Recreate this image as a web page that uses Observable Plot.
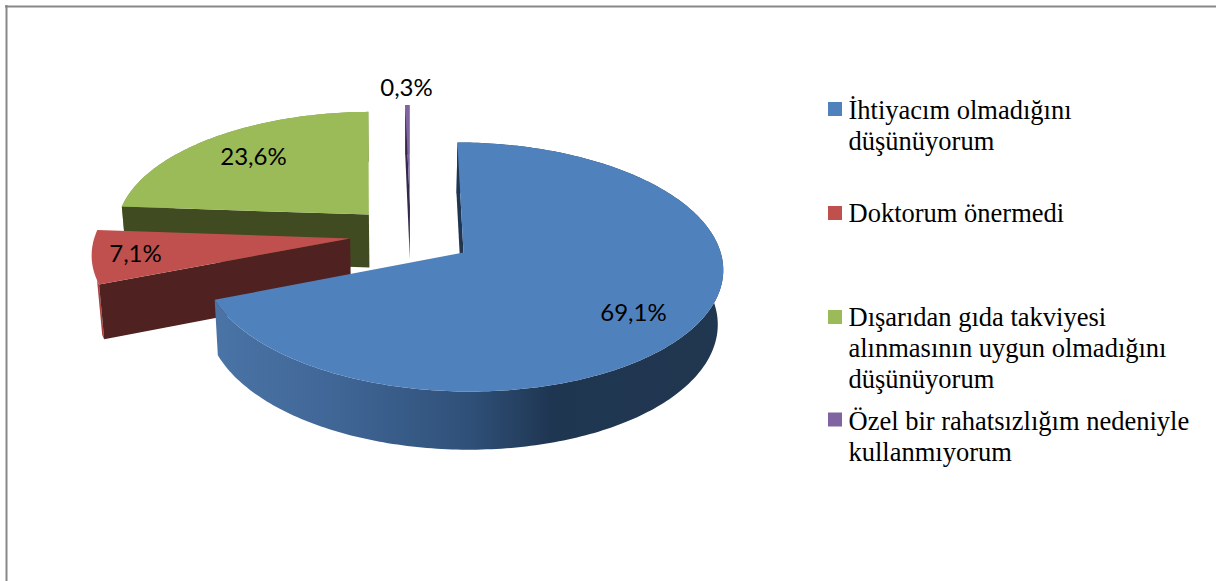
<!DOCTYPE html>
<html><head><meta charset="utf-8">
<script src="https://cdn.jsdelivr.net/npm/d3@7"></script>
<script src="https://cdn.jsdelivr.net/npm/@observablehq/plot@0.6"></script>
<style>html,body{margin:0;padding:0;background:#fff;overflow:hidden}</style>
</head><body><div id="chart"></div>
<script>
const categories = [
  "İhtiyacım olmadığını\ndüşünüyorum",
  "Doktorum önermedi",
  "Dışarıdan gıda takviyesi\nalınmasının uygun olmadığını\ndüşünüyorum",
  "Özel bir rahatsızlığım nedeniyle\nkullanmıyorum"
];
const percents = [69.1, 7.1, 23.6, 0.3];
const valueLabels = ["69,1%", "7,1%", "23,6%", "0,3%"];
const colors = ["#4f81bd", "#c0504d", "#9bbb59", "#8064a2"];
const cutColors = ["#1f3550", "#4f2120", "#404b22", "#33284a"];
const rimColors = ["url(#blueRim)", "#a8413f", "#7f9a48", "#5f4a7c"];

// layout of the tilted pie
const W = 1216, H = 581;
const cx = 463, cy = 252, R = 258, kR = 122.8, p = 0.1164, startDeg = -1.5, shear = 0.012;
const explode = [[0, 0], [-0.445, -0.105], [-0.38, -0.31], [-0.217, -0.39]];
const rimPoints = [Infinity, 3, Infinity, Infinity];
const project = (u, v) => {
  const s = 1 / (1 - p * v);
  const x = cx + R * u * s;
  return [x, cy + kR * v * s + (x - cx) * shear];
};
const extrude = ([x, y]) => [400 + (x - 400) * 0.983, y + 54 + (y - 252) * 0.03];

const total = d3.sum(percents);
let acc = startDeg;
const slices = percents.map((v, i) => {
  const a0 = acc, a1 = acc + v / total * 360; acc = a1;
  const [du, dv] = explode[i];
  const arc = [];
  const n = Math.max(2, Math.ceil(a1 - a0));
  for (let k = 0; k <= n; k++) {
    const a = (a0 + (a1 - a0) * k / n) * Math.PI / 180;
    arc.push(project(Math.sin(a) + du, -Math.cos(a) + dv));
  }
  const tip = project(du, dv);
  return {i, tip, arc};
});

const polygon = (pts, fill) => Plot.line(pts, {x: d => d[0], y: d => d[1], fill, stroke: "none", curve: "linear"});
const sliceMarks = s => {
  const rim = s.arc.slice(0, rimPoints[s.i]);
  return [
    polygon([...rim, ...rim.map(extrude).reverse()], rimColors[s.i]),
    polygon([s.tip, s.arc[0], extrude(s.arc[0]), extrude(s.tip)], cutColors[s.i]),
    polygon([s.tip, ...s.arc], colors[s.i])
  ];
};

const defs = () => {
  const d = d3.create("svg:defs");
  const g = d.append("linearGradient").attr("id", "blueRim").attr("gradientUnits", "userSpaceOnUse")
    .attr("x1", 216).attr("x2", 723).attr("y1", 0).attr("y2", 0);
  [[0, "#4a74a6"], [0.25, "#3f6595"], [0.5, "#2f5078"], [0.66, "#1f3652"], [1, "#21374f"]]
    .forEach(([o, c]) => g.append("stop").attr("offset", o).attr("stop-color", c));
  return d.node();
};

const legendRows = categories.map((c, i) => ({
  label: c, color: colors[i],
  top: [102, 206, 310, 412.5][i], base: [149, 221, 387, 460][i]
}));
const valueRows = valueLabels.map((t, i) => ({t, pos: [[633, 313], [135, 254], [253, 157], [406, 88]][i]}));

const plot = Plot.plot({
  width: W, height: H, margin: 0,
  x: {domain: [0, W], range: [0, W], axis: null},
  y: {domain: [0, H], range: [0, H], axis: null},
  marks: [
    defs,
    Plot.ruleY([6], {x1: 5, x2: W, stroke: "#888888", strokeWidth: 2}),
    Plot.ruleX([6], {y1: 5, y2: H, stroke: "#888888", strokeWidth: 2}),
    ...[3, 2, 1, 0].flatMap(i => sliceMarks(slices[i])),
    Plot.text(valueRows, {x: d => d.pos[0], y: d => d.pos[1], text: "t", fontFamily: "Lato", fontSize: 24, fill: "#000", textAnchor: "middle", lineAnchor: "middle"}),
    Plot.rect(legendRows, {x1: () => 828, x2: () => 842, y1: "top", y2: d => d.top + 14, fill: "color"}),
    Plot.text(legendRows, {x: () => 848, y: "base", text: "label", fontFamily: "Liberation Serif", fontSize: 26.5, lineHeight: 1.158, fill: "#000", textAnchor: "start", lineAnchor: "bottom"})
  ]
});
document.getElementById("chart").append(plot);
</script></body></html>
